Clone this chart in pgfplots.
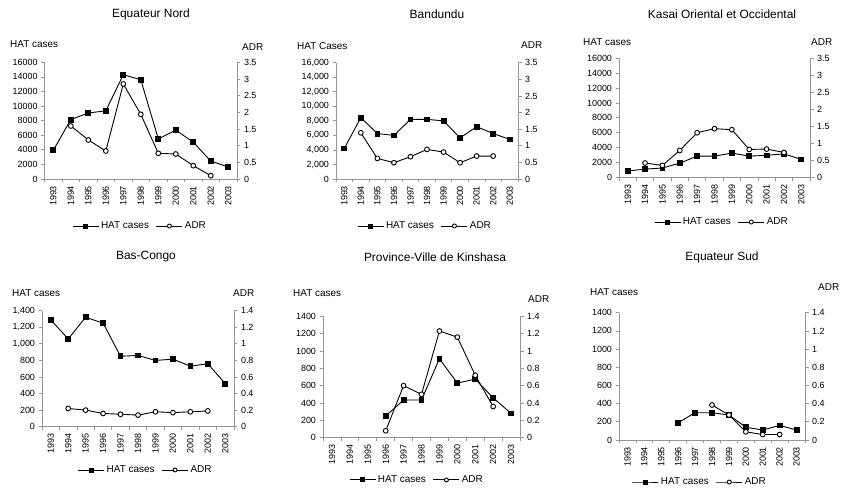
\documentclass[border=0pt]{standalone}
\usepackage{fontspec}
\setmainfont{Liberation Sans}
\usepackage{pgfplots}
\pgfplotsset{compat=1.18}
\definecolor{axgray}{RGB}{150,150,150}

\pgfplotsset{
  panel/.style={
    scale only axis, anchor=south west,
    xmin=1992.5, xmax=2003.5, ymin=0, clip=false,
    tick align=outside, major tick length=3.5bp, minor tick length=3.5bp,
    axis line style={axgray, line width=0.7pt},
    tick style={axgray, line width=0.7pt},
    ticklabel style={font=\fontsize{9}{10}\selectfont, text=black},
    /pgf/number format/assume math mode=true,
    scaled y ticks=false,
  },
  leftpanel/.style={
    panel, axis x line*=bottom, axis y line*=left,
    xtick={1993,1994,1995,1996,1997,1998,1999,2000,2001,2002,2003},
    xticklabels={1993,1994,1995,1996,1997,1998,1999,2000,2001,2002,2003},
    minor xtick={1992.5,1993.5,1994.5,1995.5,1996.5,1997.5,1998.5,1999.5,2000.5,2001.5,2002.5,2003.5},
    major x tick style={draw=none},
    xticklabel style={rotate=90, anchor=east},
    legend style={draw=none, fill=none, anchor=center, legend columns=2,
      font=\fontsize{10}{12}\selectfont,
      /tikz/every even column/.append style={column sep=5bp},
      /tikz/every odd column/.append style={inner sep=1.5bp}},
    legend image code/.code={\draw[mark repeat=2,mark phase=2,mark size=2bp,##1]
      plot coordinates {(0bp,0bp)(13bp,0bp)(26bp,0bp)};},
  },
  rightpanel/.style={panel, axis x line=none, axis y line*=right, xtick=\empty},
  hatline/.style={black, line width=0.9pt, mark=square*, mark size=2.4bp,
    mark options={solid, fill=black}},
  adrline/.style={black, line width=0.9pt, mark=*, mark size=2.4bp,
    mark options={solid, fill=white}},
  bigcases/.style={ymax=16000, ytick={0,2000,4000,6000,8000,10000,12000,14000,16000}},
  smallcases/.style={ymax=1400, ytick={0,200,400,600,800,1000,1200,1400}},
  bigadr/.style={ymax=3.5, ytick={0,0.5,1,1.5,2,2.5,3,3.5}},
  smalladr/.style={ymax=1.4, ytick={0,0.2,0.4,0.6,0.8,1,1.2,1.4}},
}

\newcommand{\paneltitle}[2]{\node[font=\fontsize{12}{14}\selectfont] at (#1) {#2};}
\newcommand{\lefttitle}[2]{\node[anchor=west, inner sep=0pt, font=\fontsize{10}{12}\selectfont] at (#1) {#2};}

\begin{document}
\begin{tikzpicture}
\path[use as bounding box] (0,0) rectangle (850bp,501bp);

% ---------- Equateur Nord ----------
\paneltitle{151bp,487bp}{Equateur Nord}
\lefttitle{10bp,457bp}{HAT cases}
\lefttitle{242bp,454bp}{ADR}
\begin{axis}[leftpanel, bigcases, at={(44.6bp,322bp)}, width=192.4bp, height=116.7bp,
  /pgf/number format/1000 sep={}, legend style={at={(0.496,-0.403)}}]
\addplot[hatline] coordinates {
  (1993,3950) (1994,8150) (1995,9050) (1996,9350) (1997,14300) (1998,13600)
  (1999,5500) (2000,6700) (2001,5050) (2002,2450) (2003,1650)};
\addlegendentry{HAT cases}
\addlegendimage{adrline}
\addlegendentry{ADR}
\end{axis}
\begin{axis}[rightpanel, bigadr, at={(44.6bp,322bp)}, width=192.4bp, height=116.7bp]
\addplot[adrline] coordinates {
  (1994,1.59) (1995,1.17) (1996,0.84) (1997,2.85) (1998,1.94)
  (1999,0.77) (2000,0.75) (2001,0.40) (2002,0.10)};
\end{axis}

% ---------- Bandundu ----------
\paneltitle{437bp,487bp}{Bandundu}
\lefttitle{297bp,455bp}{HAT Cases}
\lefttitle{521bp,456bp}{ADR}
\begin{axis}[leftpanel, bigcases, at={(336bp,322bp)}, width=182bp, height=116.3bp,
  /pgf/number format/1000 sep={,}, legend style={at={(0.489,-0.404)}}]
\addplot[hatline] coordinates {
  (1993,4200) (1994,8450) (1995,6250) (1996,6000) (1997,8200) (1998,8200)
  (1999,8000) (2000,5650) (2001,7200) (2002,6250) (2003,5450)};
\addlegendentry{HAT cases}
\addlegendimage{adrline}
\addlegendentry{ADR}
\end{axis}
\begin{axis}[rightpanel, bigadr, at={(336bp,322bp)}, width=182bp, height=116.3bp]
\addplot[adrline] coordinates {
  (1994,1.39) (1995,0.62) (1996,0.49) (1997,0.67) (1998,0.89)
  (1999,0.81) (2000,0.49) (2001,0.69) (2002,0.69)};
\end{axis}

% ---------- Kasai Oriental et Occidental ----------
\paneltitle{722bp,487bp}{Kasai Oriental et Occidental}
\lefttitle{583bp,459bp}{HAT cases}
\lefttitle{811bp,459bp}{ADR}
\begin{axis}[leftpanel, bigcases, at={(619bp,323.7bp)}, width=191bp, height=119bp,
  /pgf/number format/1000 sep={}, legend style={at={(0.539,-0.376)}}]
\addplot[hatline] coordinates {
  (1993,850) (1994,1100) (1995,1250) (1996,1900) (1997,2850) (1998,2850)
  (1999,3250) (2000,2850) (2001,2950) (2002,3150) (2003,2400)};
\addlegendentry{HAT cases}
\addlegendimage{adrline}
\addlegendentry{ADR}
\end{axis}
\begin{axis}[rightpanel, bigadr, at={(619bp,323.7bp)}, width=191bp, height=119bp]
\addplot[adrline] coordinates {
  (1994,0.42) (1995,0.35) (1996,0.79) (1997,1.31) (1998,1.43)
  (1999,1.40) (2000,0.82) (2001,0.83) (2002,0.73)};
\end{axis}

% ---------- Bas-Congo ----------
\paneltitle{146bp,244bp}{Bas-Congo}
\lefttitle{12bp,208bp}{HAT cases}
\lefttitle{233bp,208bp}{ADR}
\begin{axis}[leftpanel, smallcases, at={(42bp,74.3bp)}, width=192bp, height=116bp,
  /pgf/number format/1000 sep={,}, legend style={at={(0.54,-0.373)}}]
\addplot[hatline] coordinates {
  (1993,1290) (1994,1060) (1995,1320) (1996,1250) (1997,850) (1998,860)
  (1999,800) (2000,815) (2001,730) (2002,760) (2003,520)};
\addlegendentry{HAT cases}
\addlegendimage{adrline}
\addlegendentry{ADR}
\end{axis}
\begin{axis}[rightpanel, smalladr, at={(42bp,74.3bp)}, width=192bp, height=116bp]
\addplot[adrline] coordinates {
  (1994,0.22) (1995,0.20) (1996,0.16) (1997,0.15) (1998,0.14)
  (1999,0.18) (2000,0.17) (2001,0.18) (2002,0.19)};
\end{axis}

% ---------- Province-Ville de Kinshasa ----------
\paneltitle{435bp,244bp}{Province-Ville de Kinshasa}
\lefttitle{293bp,208bp}{HAT cases}
\lefttitle{528bp,202bp}{ADR}
\begin{axis}[leftpanel, smallcases, at={(323bp,63.3bp)}, width=197bp, height=121.4bp,
  /pgf/number format/1000 sep={}, legend style={at={(0.477,-0.348)}}]
\addplot[hatline] coordinates {
  (1996,250) (1997,435) (1998,435) (1999,910) (2000,630) (2001,675)
  (2002,460) (2003,280)};
\addlegendentry{HAT cases}
\addlegendimage{adrline}
\addlegendentry{ADR}
\end{axis}
\begin{axis}[rightpanel, smalladr, at={(323bp,63.3bp)}, width=197bp, height=121.4bp]
\addplot[adrline] coordinates {
  (1996,0.08) (1997,0.60) (1998,0.50) (1999,1.23) (2000,1.16)
  (2001,0.72) (2002,0.36)};
\end{axis}

% ---------- Equateur Sud ----------
\paneltitle{722bp,244bp}{Equateur Sud}
\lefttitle{590bp,209bp}{HAT cases}
\lefttitle{818bp,214bp}{ADR}
\begin{axis}[leftpanel, smallcases, at={(619bp,61bp)}, width=186bp, height=127.3bp,
  /pgf/number format/1000 sep={}, legend style={at={(0.435,-0.33)}}]
\addplot[hatline] coordinates {
  (1996,190) (1997,300) (1998,300) (1999,275) (2000,140) (2001,110)
  (2002,160) (2003,110)};
\addlegendentry{HAT cases}
\addlegendimage{adrline}
\addlegendentry{ADR}
\end{axis}
\begin{axis}[rightpanel, smalladr, at={(619bp,61bp)}, width=186bp, height=127.3bp]
\addplot[adrline] coordinates {
  (1998,0.385) (1999,0.275) (2000,0.09) (2001,0.06) (2002,0.06)};
\end{axis}

\end{tikzpicture}
\end{document}
